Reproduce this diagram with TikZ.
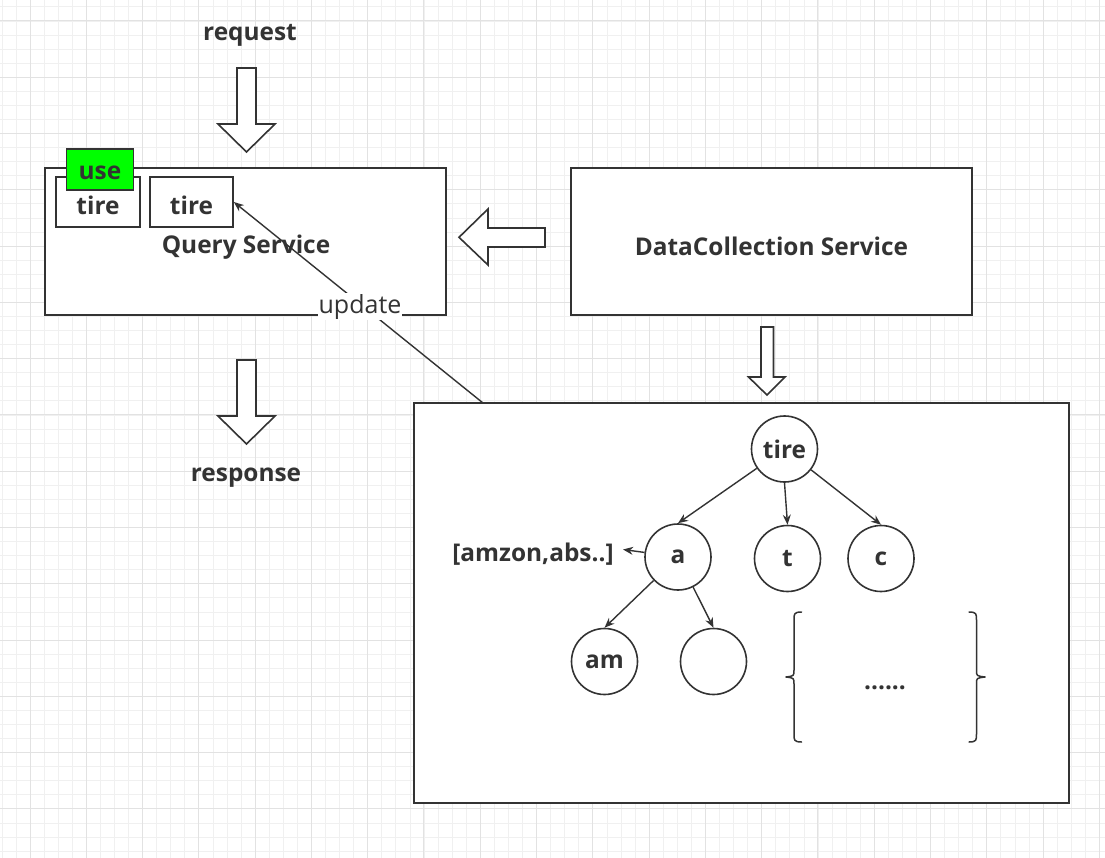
\documentclass[tikz,border=0pt]{standalone}
\usepackage{fontspec}
\setmainfont{Open Sans}
\usetikzlibrary{arrows.meta}
\definecolor{ink}{HTML}{333333}
\definecolor{gridminor}{HTML}{F0F0F0}
\definecolor{gridmajor}{HTML}{E2E2E2}
\definecolor{usegreen}{HTML}{00FF00}
\tikzset{
  every node/.style={text=ink},
  boxline/.style={draw=ink,line width=1.6pt},
  rectbox/.style={boxline,fill=white,rectangle,inner sep=0pt},
  lbl/.style={font=\fontsize{24.4}{28}\selectfont\bfseries},
  trienode/.style={boxline,fill=white,circle,minimum size=66pt,inner sep=0pt,font=\fontsize{24.4}{28}\selectfont\bfseries},
  hollow/.style={draw=ink,line width=1.6pt,fill=white,line join=miter},
  link/.style={draw=ink,line width=1.4pt,-{Stealth[length=10pt,width=8pt]}},
}
\begin{document}
\begin{tikzpicture}[x=1pt,y=-1pt]
\useasboundingbox (0,0) rectangle (1105,858);
\fill[white] (0,0) rectangle (1105,858);
% grid
\foreach \i in {0,...,78} {\draw[gridminor,line width=1pt] ({2+14.07*\i},0) -- ({2+14.07*\i},858);}
\foreach \i in {0,...,61} {\draw[gridminor,line width=1pt] (0,{7+14.07*\i}) -- (1105,{7+14.07*\i});}
\foreach \i in {0,...,19} {\draw[gridmajor,line width=1pt] ({30+56.28*\i},0) -- ({30+56.28*\i},858);}
\foreach \i in {0,...,15} {\draw[gridmajor,line width=1pt] (0,{21+56.28*\i}) -- (1105,{21+56.28*\i});}

% request / response
\node[lbl] (req) at (250,35) {request};
\node[lbl] (resp) at (246,478) {response};
\draw[hollow] (237,68) -- (256,68) -- (256,124) -- (275,124) -- (246.5,152) -- (218,124) -- (237,124) -- cycle;
\draw[hollow] (237,360) -- (256,360) -- (256,416) -- (275,416) -- (246.5,444) -- (218,416) -- (237,416) -- cycle;

% Query service
\node[rectbox,minimum width=401pt,minimum height=147pt] (qs) at (245.5,241.5) {};
\node[lbl] (qslabel) at (246,247) {Query Service};
\node[rectbox,minimum width=84pt,minimum height=50pt] (tire1) at (98,202) {};
\node[lbl] at (98,205) {tire};
\node[rectbox,minimum width=83pt,minimum height=50pt] (tire2) at (191.5,202) {};
\node[lbl] at (191.5,205) {tire};
\node[rectbox,fill=usegreen,minimum width=67pt,minimum height=41pt] (use) at (100,169.5) {};
\node[lbl] at (100,173) {use};

% DataCollection service
\node[rectbox,minimum width=401pt,minimum height=147pt] (dc) at (771.5,241.5) {};
\node[lbl] at (771.5,246) {DataCollection Service};
\draw[hollow] (545,228) -- (545,247) -- (488,247) -- (488,265) -- (459,237.3) -- (488,209) -- (488,228) -- cycle;
\draw[hollow] (761,327) -- (773.5,327) -- (773.5,377) -- (785,377) -- (767,395) -- (748.5,377) -- (761,377) -- cycle;

% big box
\node[rectbox,minimum width=655pt,minimum height=400pt] (big) at (741.5,603) {};
\coordinate (upd) at (483,403);

% trie
\node[trienode] (tire) at (784.5,449) {tire};
\node[trienode] (a) at (678,557) {a};
\node[trienode] (t) at (787.5,558.5) {t};
\node[trienode] (c) at (881,558.5) {c};
\node[trienode] (am) at (604.5,661.5) {am};
\node[trienode] (e) at (713.5,661.5) {};
\node[lbl,inner sep=0pt] (list) at (533,554) {[amzon,abs..]};
\coordinate (listtip) at (623,549.5);

\draw[link] (tire) -- (a.north);
\draw[link] (tire.south) -- (t.north);
\draw[link] (tire) -- (c.north);
\draw[link] (a) -- (am.north);
\draw[link] (a) -- (e.north);
\draw[link] (a) -- (listtip);

% braces
\draw[ink,line width=1.5pt,line join=round,line cap=round] (801.5,612) .. controls (794,612) and (794,614) .. (794,620) -- (794,670) .. controls (794,676) .. (786,677) .. controls (794,678) .. (794,684) -- (794,734) .. controls (794,740) and (794,742) .. (801.5,742);
\draw[ink,line width=1.5pt,line join=round,line cap=round] (969,612) .. controls (976.5,612) and (976.5,614) .. (976.5,620) -- (976.5,670) .. controls (976.5,676) .. (985,677) .. controls (976.5,678) .. (976.5,684) -- (976.5,734) .. controls (976.5,740) and (976.5,742) .. (969,742);
\node[lbl] (dots) at (885,688) {......};

% update
\draw[link] (upd) -- (tire2.east);
\node[fill=white,inner sep=1pt,font=\fontsize{25}{28}\selectfont] (updl) at (360,307) {update};
\end{tikzpicture}
\end{document}
